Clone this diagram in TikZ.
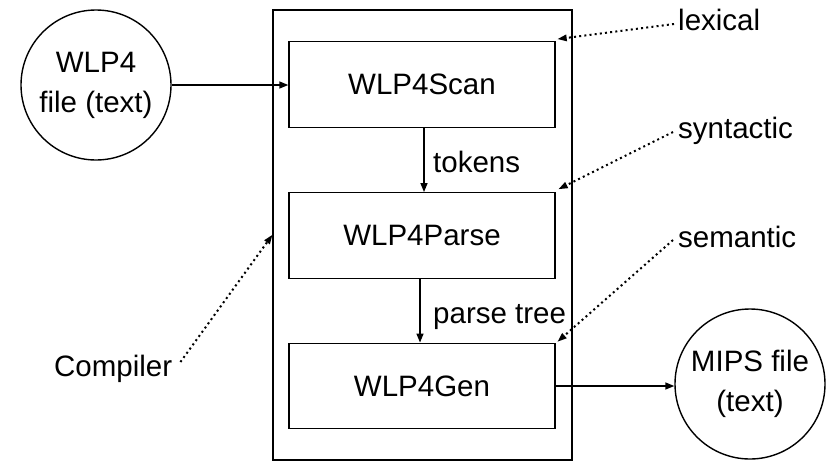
\documentclass[tikz,border=0pt]{standalone}
\usepackage{fontspec}
\setmainfont{Liberation Sans}
\usetikzlibrary{arrows.meta,calc}
\begin{document}
\begin{tikzpicture}[x=1pt,y=-1pt,
  every node/.style={font=\fontsize{29.5}{40}\selectfont},
  stage/.style={draw,line width=1.4pt,minimum width=266pt,minimum height=85.5pt,inner sep=0pt},
  filecirc/.style={draw,circle,line width=1.4pt,minimum size=150pt,inner sep=0pt,align=center},
  lbl/.style={inner sep=0pt,anchor=base west},
  flow/.style={line width=1.4pt,-{Triangle[length=9pt,width=7pt]}},
  note/.style={line width=2pt,dash pattern=on 2pt off 3.2pt,-{Triangle[length=9pt,width=7pt,line width=0pt]}}]
\useasboundingbox (0,0) rectangle (835,472);
% outer compiler box
\node[draw,line width=1.4pt,minimum width=299pt,minimum height=450pt,inner sep=0pt] (outer) at (422.5,235) {};
% stages
\node[stage] (scan) at (422,84.5) {WLP4Scan};
\node[stage] (parse) at (422,235.5) {WLP4Parse};
\node[stage] (gen) at (422,386) {WLP4Gen};
% files
\node[filecirc] (wlp) at (96,85) {WLP4\\file (text)};
\node[filecirc] (mips) at (750,384) {MIPS file\\(text)};
% labels
\node[lbl] (tok) at (433,172) {tokens};
\node[lbl] (pt) at (433,323) {parse tree};
\node[lbl] (lex) at (678,30) {lexical};
\node[lbl] (syn) at (678,138) {syntactic};
\node[lbl] (sem) at (678,247) {semantic};
\node[lbl] (comp) at (54,376) {Compiler};
% flow arrows
\draw[flow] (wlp.east) -- (scan.west |- wlp.east);
\draw[flow] ($(scan.south)+(2,0)$) -- ($(parse.north)+(2,0)$);
\draw[flow] ($(parse.south)+(-2,0)$) -- ($(gen.north)+(-2,0)$);
\draw[flow] (gen.east) -- (mips.west |- gen.east);
% annotation arrows
\coordinate (lexs) at ($(lex.base west)+(-4,-6)$);
\coordinate (syns) at ($(syn.base west)+(-5,-6)$);
\coordinate (sems) at ($(sem.base west)+(-5,-7)$);
\coordinate (comps) at ($(comp.base east)+(8,-14)$);
\draw[note] (lexs) -- ($(scan.north east)+(2,-2)$);
\draw[note] (syns) -- ($(parse.north east)+(3,-3)$);
\draw[note] (sems) -- ($(gen.north east)+(2,-1)$);
\draw[note] (comps) -- (outer.west);
\end{tikzpicture}
\end{document}
